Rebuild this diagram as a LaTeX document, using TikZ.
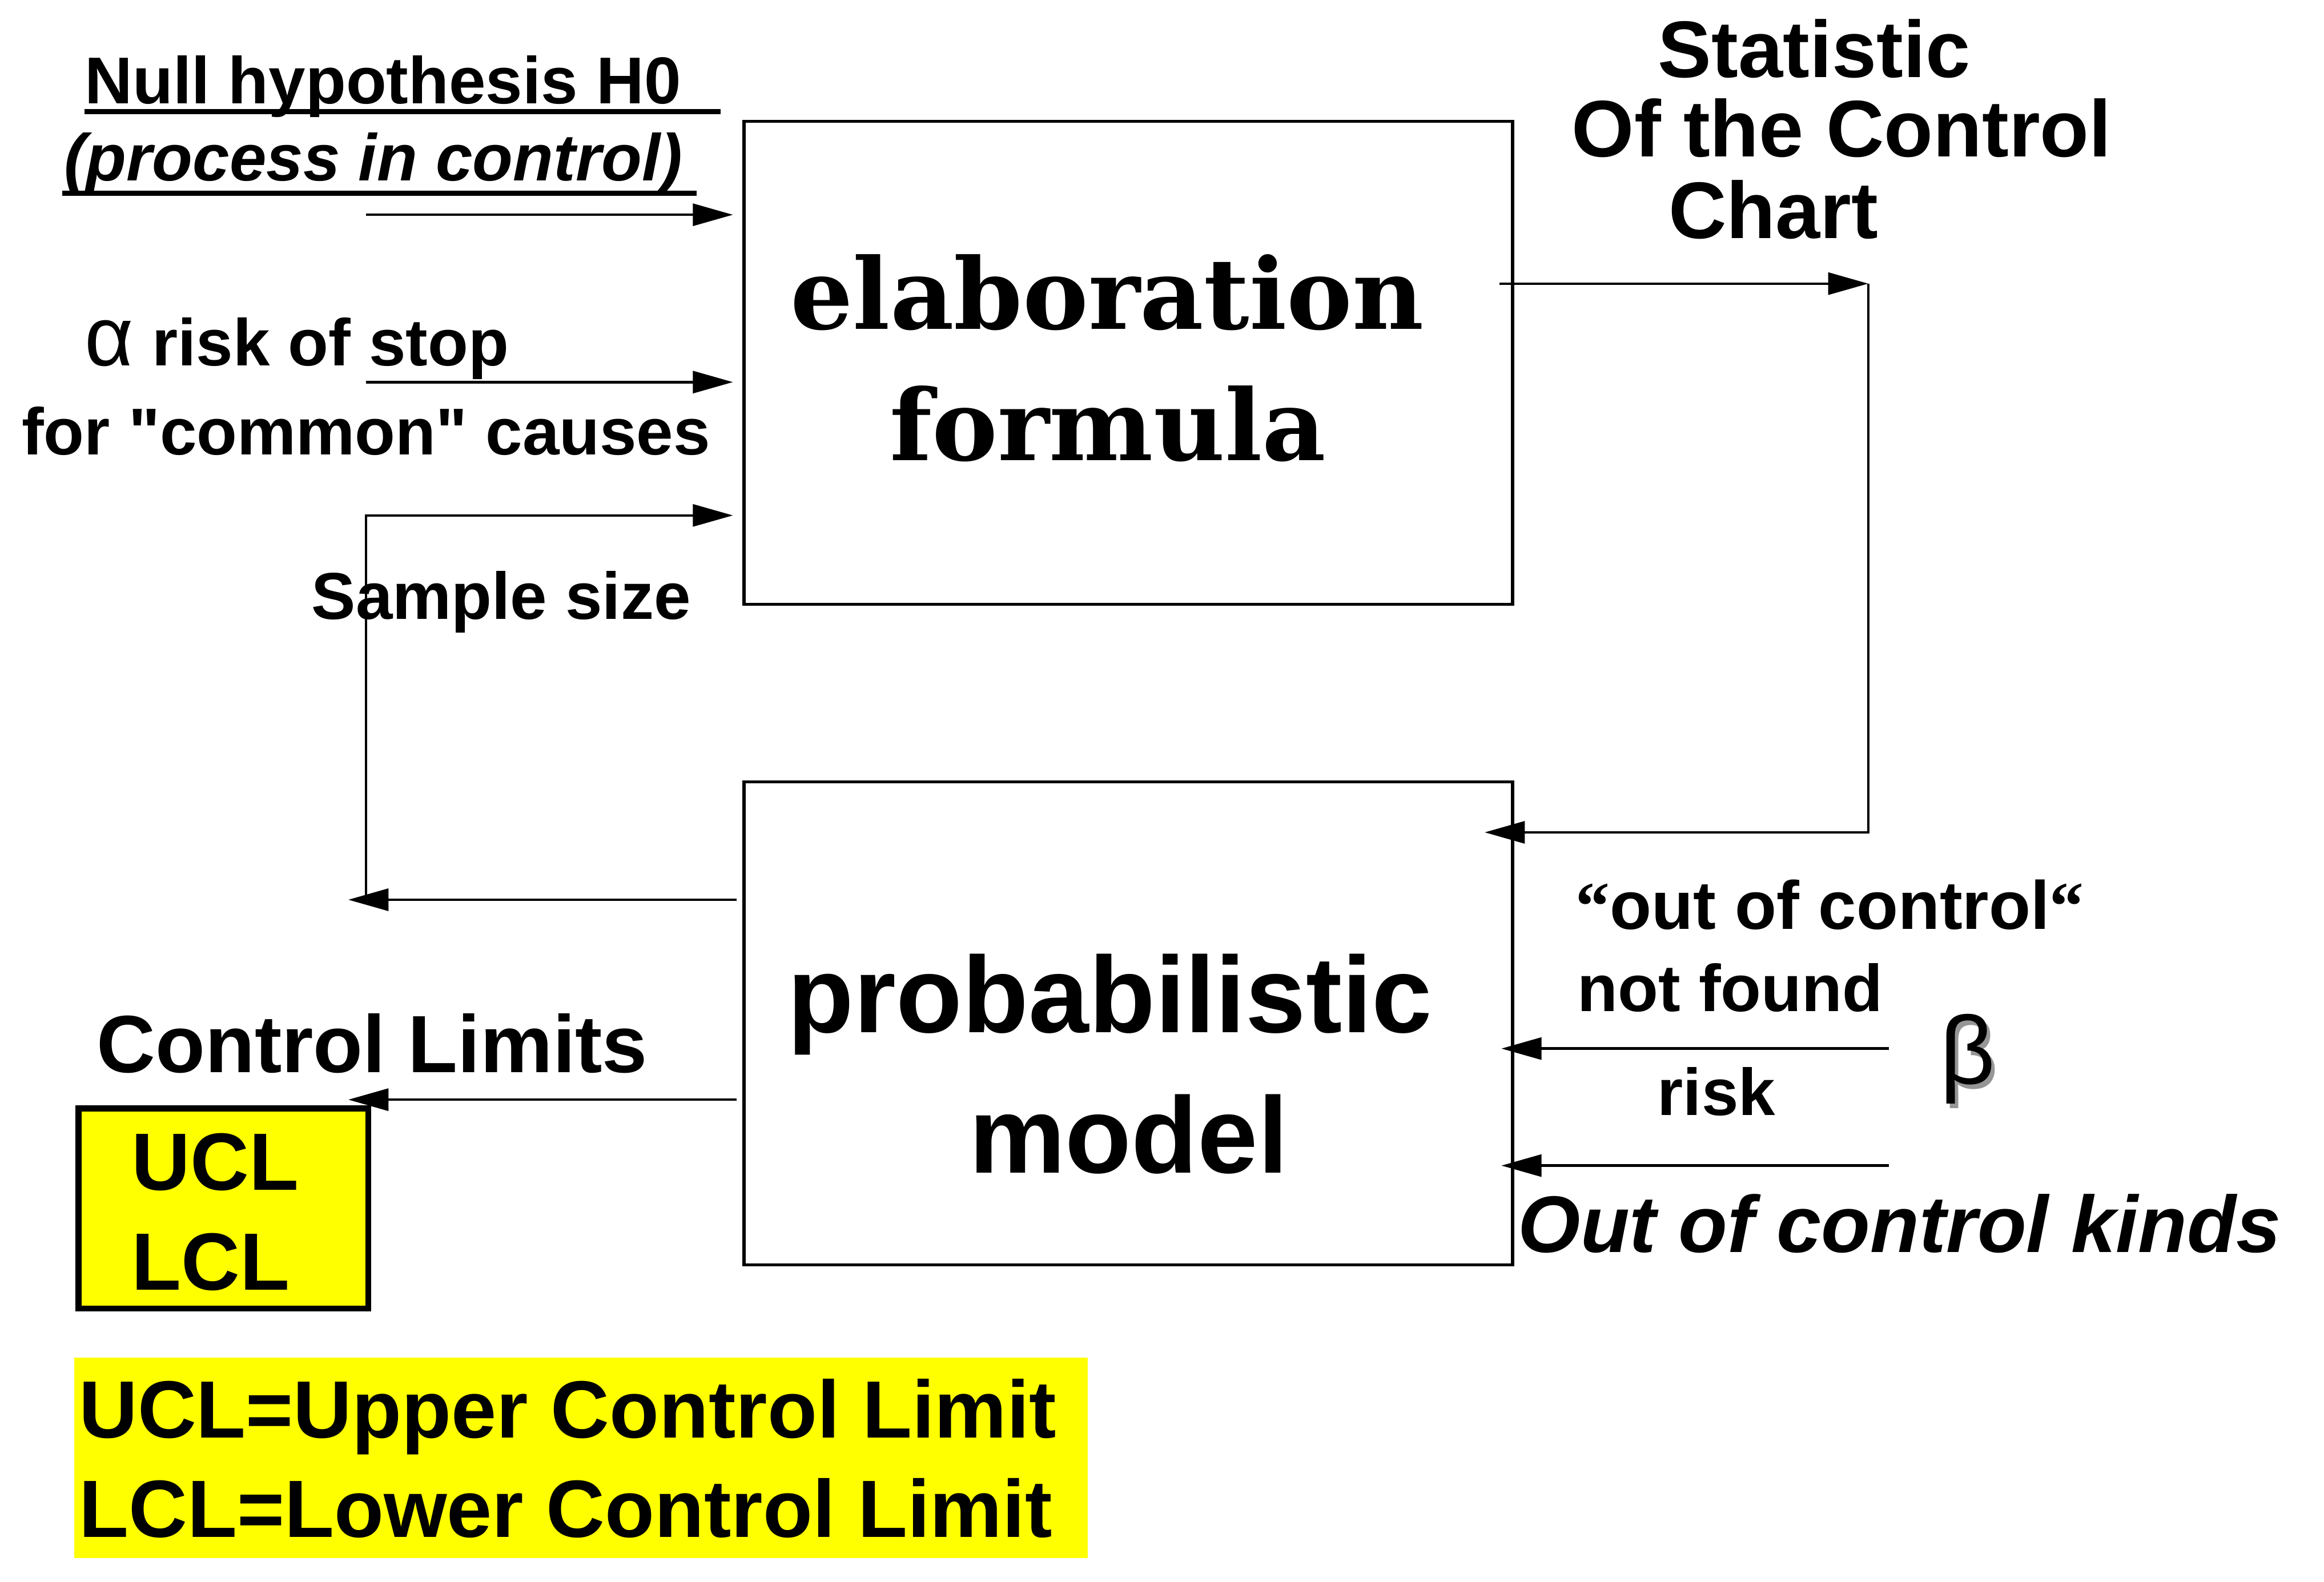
\documentclass[tikz,border=0pt]{standalone}
\usepackage{fontspec}
\setmainfont{Liberation Sans}[Ligatures=TeXOff]
\newfontfamily\slabfont{DejaVu Serif}
\newfontfamily\greekfont{Liberation Sans}
\newfontfamily\quotefont{Liberation Serif}
\usetikzlibrary{arrows.meta,fit}
\definecolor{hlyellow}{RGB}{255,255,0}
\definecolor{shadowgray}{RGB}{150,150,150}
\begin{document}
\begin{tikzpicture}[x=0.025957cm,y=-0.025946cm,
  blockbox/.style={draw,line width=1.5pt,inner sep=0pt},
  conn/.style={line width=1.25pt,-{Triangle[length=20pt,width=11pt]}},
  wire/.style={line width=1.25pt},
  uline/.style={line width=2.5pt},
  lbl/.style={inner sep=0pt,anchor=base west,font=\bfseries\fontsize{33}{40}\selectfont},
  big/.style={inner sep=0pt,anchor=base west,font=\bfseries\fontsize{40.5}{48}\selectfont},
  ctr/.style={inner sep=0pt,anchor=base,font=\bfseries\fontsize{40}{48}\selectfont},
  slab/.style={inner sep=0pt,anchor=base,font=\slabfont\bfseries\fontsize{49}{58}\selectfont},
  model/.style={inner sep=0pt,anchor=base,font=\bfseries\fontsize{54}{64}\selectfont},
  betastyle/.style={inner sep=0pt,anchor=base,font=\greekfont\fontsize{48}{56}\selectfont},
]
\useasboundingbox (0,0) rectangle (1568,1068);

% main blocks
\coordinate (e1) at (502,82);  \coordinate (e2) at (1020.5,408);
\node[blockbox,fit=(e1)(e2)] (elab) {};
\coordinate (p1) at (502,528); \coordinate (p2) at (1020.5,854);
\node[blockbox,fit=(p1)(p2)] (prob) {};

\node[slab] (elabA) at (747,222.4) {elaboration};
\node[slab] (elabB) at (747.5,311) {formula};
\node[model] (probA) at (749,697) {probabilistic};
\node[model] (probB) at (761.5,792) {model};

% left inputs
\node[lbl] (h0) at (57,70) {Null hypothesis H0};
\draw[uline] (57,75.5) -- (486,75.5);
\node[lbl,font=\bfseries\itshape\fontsize{33}{40}\selectfont] (h0b) at (43,122) {(process in control)};
\draw[uline] (42,130.5) -- (470,130.5);
\node[lbl] (alpha) at (57,247) {{\mdseries\greekfont\fontsize{42}{48}\selectfont α} risk of stop};
\node[lbl] (common) at (14.5,307) {for "common" causes};
\node[lbl] (sample) at (210,418) {Sample size};

\coordinate (h0s) at (247,145);   \coordinate (h0e) at (494.5,145);
\coordinate (as) at (247,258);    \coordinate (ae) at (494.5,258);
\coordinate (ss) at (247,607.5);  \coordinate (se) at (494.5,348);
\coordinate (rs) at (497,607.5);  \coordinate (re) at (235,607.5);
\draw[conn] (h0s) -- (h0e);
\draw[conn] (as) -- (ae);
\draw[conn] (ss) |- (se);
\draw[conn] (rs) -- (re);

% control limits
\node[big] (cl) at (65,724) {Control Limits};
\coordinate (cs) at (497,742.5); \coordinate (ce) at (235,742.5);
\draw[conn] (cs) -- (ce);
\coordinate (u1) at (53,748.5); \coordinate (u2) at (248.5,883.5);
\node[draw,line width=3pt,fill=hlyellow,fit=(u1)(u2),inner sep=0pt] (uclbox) {};
\node[big] (ucl) at (88.7,803.6) {UCL};
\node[big] (lcl) at (88.7,871) {LCL};

% legend
\coordinate (l1) at (50,916.5); \coordinate (l2) at (734,1052);
\node[fill=hlyellow,fit=(l1)(l2),inner sep=0pt] (legend) {};
\node[big] (leg1) at (53,971) {UCL=Upper Control Limit};
\node[big] (leg2) at (53,1038) {LCL=Lower Control Limit};

% right side
\node[ctr] (st1) at (1224,52.3) {Statistic};
\node[ctr] (st2) at (1242.6,106) {Of the Control};
\node[ctr] (st3) at (1196.5,161) {Chart};
\coordinate (os) at (1011.7,191.5); \coordinate (oe) at (1260.5,191.5);
\coordinate (be) at (1001.7,562);
\draw[conn] (os) -- (oe);
\draw[conn] (oe) |- (be);

\node[lbl,font=\bfseries\fontsize{34}{40}\selectfont] (ooc) at (1063,627.5) {{\quotefont “}out of control{\quotefont “}};
\node[lbl] (nf) at (1064,683) {not found};
\coordinate (bs) at (1274.4,708); \coordinate (bt) at (1013,708);
\draw[conn] (bs) -- (bt);
\node[lbl] (risk) at (1118,753) {risk};
\node[betastyle,text=shadowgray] (betash) at (1330,735) {β};
\node[betastyle] (beta) at (1327.5,732) {β};
\coordinate (ks) at (1274.4,787); \coordinate (kt) at (1013,787);
\draw[conn] (ks) -- (kt);
\node[lbl,font=\bfseries\itshape\fontsize{40}{46}\selectfont] (kinds) at (1024,845.6) {Out of control kinds};
\end{tikzpicture}
\end{document}
